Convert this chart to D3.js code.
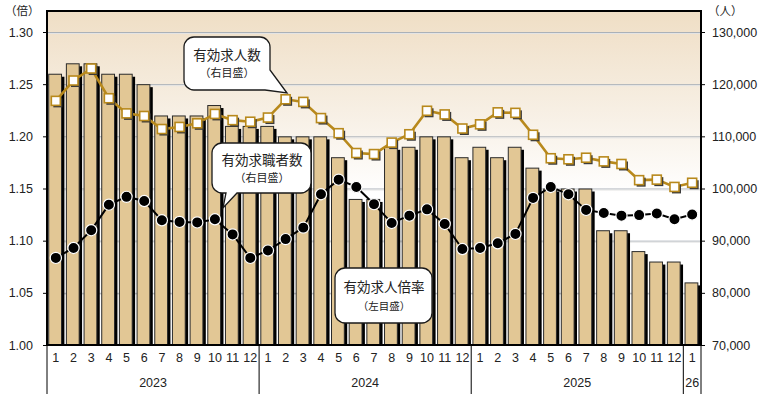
<!DOCTYPE html>
<html>
<head>
<meta charset="utf-8">
<script src="https://cdn.jsdelivr.net/npm/d3@7"></script>
<style>
  html, body { margin: 0; padding: 0; background: #fff; }
  svg { display: block; }
  text { font-family: "Liberation Sans", Arial, sans-serif; fill: #222; }
  .jp { font-family: "Noto Sans CJK JP", sans-serif; }
</style>
</head>
<body>
<svg id="chart" width="759" height="394"></svg>
<script>
// Month labels, Jan 2023 – Jan 2026
const monthLabels = ["1","2","3","4","5","6","7","8","9","10","11","12",
                     "1","2","3","4","5","6","7","8","9","10","11","12",
                     "1","2","3","4","5","6","7","8","9","10","11","12",
                     "1"];
const yearLabels = ["2023", "2024", "2025", "26"];
const yearSpans  = [12, 12, 12, 1];

// 有効求人倍率 (left axis, 倍)
const jobRatio = [1.26,1.27,1.27,1.26,1.26,1.25,1.22,1.22,1.22,1.23,1.21,1.21,
                  1.21,1.20,1.20,1.20,1.18,1.14,1.14,1.19,1.19,1.20,1.20,1.18,
                  1.19,1.18,1.19,1.17,1.15,1.15,1.15,1.11,1.11,1.09,1.08,1.08,
                  1.06];

// 有効求人数 (right axis, 人)
const jobOffers = [116800,120700,123000,117300,114400,113900,111400,111800,112500,114300,113100,112800,
                   113600,117100,116600,113500,110600,106800,106600,108800,110400,114900,114200,111500,
                   112300,114600,114500,110300,105800,105600,105900,105200,104700,101600,101700,100300,
                   101100];

// 有効求職者数 (right axis, 人)
const jobSeekers = [86700,88600,92000,96900,98400,97600,93900,93600,93500,94100,91200,86700,
                    88100,90300,92500,98900,101700,100300,97000,93400,94800,96000,93200,88400,
                    88600,89500,91300,98200,100300,98900,95900,95300,94800,94900,95200,94100,
                    95000];

const ratioTicks = [1.00, 1.05, 1.10, 1.15, 1.20, 1.25, 1.30];
const countTicks = [70000, 80000, 90000, 100000, 110000, 120000, 130000];

const svg = d3.select("#chart");
const L = 47, R = 701, T = 11, B = 345;

const x = d3.scaleBand().domain(d3.range(monthLabels.length)).range([L, R]).padding(0);
const yL = d3.scaleLinear().domain([1.0, 1.3]).range([B, 32]);
const yR = d3.scaleLinear().domain([70000, 130000]).range([B, 32]);
const step = x.bandwidth();
const cx = i => x(i) + step / 2;

// background gradient
const defs = svg.append("defs");
const grad = defs.append("linearGradient").attr("id", "bg").attr("x1", 0).attr("y1", 0).attr("x2", 0).attr("y2", 1);
grad.append("stop").attr("offset", "0%").attr("stop-color", "#efdec5");
grad.append("stop").attr("offset", "33%").attr("stop-color", "#f8f1e7");
grad.append("stop").attr("offset", "55%").attr("stop-color", "#ffffff");
grad.append("stop").attr("offset", "100%").attr("stop-color", "#ffffff");
defs.append("clipPath").attr("id", "plotClip")
  .append("rect").attr("x", L).attr("y", T).attr("width", R - L).attr("height", B - T);

svg.append("rect").attr("x", L).attr("y", T).attr("width", R - L).attr("height", B - T).attr("fill", "url(#bg)");

// gridlines
const grid = svg.append("g");
ratioTicks.slice(1).forEach(t => {
  grid.append("line").attr("x1", L).attr("x2", R).attr("y1", yL(t) + 0.5).attr("y2", yL(t) + 0.5)
    .attr("stroke", "#aab1b8").attr("stroke-width", 1);
  grid.append("line").attr("x1", L).attr("x2", R).attr("y1", yL(t) + 1.5).attr("y2", yL(t) + 1.5)
    .attr("stroke", "#e4e4e4").attr("stroke-width", 1);
});

// bars with drop shadow
const plot = svg.append("g").attr("clip-path", "url(#plotClip)");
const barW = 12.8, barOff = 1.2, sh = 3.4;
plot.append("g").selectAll("rect").data(jobRatio).join("rect")
  .attr("x", (d, i) => x(i) + barOff + sh)
  .attr("y", d => yL(d) + 3)
  .attr("width", barW)
  .attr("height", d => B - yL(d))
  .attr("fill", "#000");
plot.append("g").selectAll("rect").data(jobRatio).join("rect")
  .attr("x", (d, i) => x(i) + barOff + 0.5)
  .attr("y", d => yL(d) + 0.5)
  .attr("width", barW)
  .attr("height", d => B - yL(d))
  .attr("fill", "#e2c795")
  .attr("stroke", "#2a2a2a")
  .attr("stroke-width", 1);

// 有効求人数 line
const gold = "#b8891c";
const lineOffers = d3.line().x((d, i) => cx(i)).y(d => yR(d));
plot.append("path").datum(jobOffers).attr("d", lineOffers)
  .attr("fill", "none").attr("stroke", gold).attr("stroke-width", 2.6);
const sq = 9;
plot.append("g").selectAll("rect").data(jobOffers).join("rect")
  .attr("x", (d, i) => cx(i) - sq / 2 + 2)
  .attr("y", d => yR(d) - sq / 2 + 2)
  .attr("width", sq).attr("height", sq)
  .attr("fill", "#3a3a3a");
plot.append("g").selectAll("rect").data(jobOffers).join("rect")
  .attr("x", (d, i) => cx(i) - sq / 2)
  .attr("y", d => yR(d) - sq / 2)
  .attr("width", sq).attr("height", sq)
  .attr("fill", "#fff").attr("stroke", gold).attr("stroke-width", 1.6);

// 有効求職者数 line
const lineSeekers = d3.line().x((d, i) => cx(i)).y(d => yR(d));
plot.append("path").datum(jobSeekers).attr("d", lineSeekers)
  .attr("fill", "none").attr("stroke", "#000").attr("stroke-width", 2);
plot.append("g").selectAll("circle").data(jobSeekers).join("circle")
  .attr("cx", (d, i) => cx(i))
  .attr("cy", d => yR(d))
  .attr("r", 5.6)
  .attr("fill", "#000").attr("stroke", "#fff").attr("stroke-width", 1.2);

// plot frame
svg.append("path")
  .attr("d", `M${L},${B}V${T}H${R}V${B}`)
  .attr("fill", "none").attr("stroke", "#000").attr("stroke-width", 2);
svg.append("line").attr("x1", L - 1).attr("x2", R + 1).attr("y1", B).attr("y2", B)
  .attr("stroke", "#000").attr("stroke-width", 2);

// left axis
const axL = svg.append("g").attr("transform", `translate(${L},0)`)
  .call(d3.axisLeft(yL).tickValues(ratioTicks).tickFormat(d3.format(".2f")).tickSize(4).tickPadding(10));
axL.select(".domain").remove();
axL.selectAll("line").attr("stroke", "#000");
axL.selectAll("text").attr("font-size", 12.5).attr("fill", "#222");

// right axis
const axR = svg.append("g").attr("transform", `translate(${R},0)`)
  .call(d3.axisRight(yR).tickValues(countTicks).tickFormat(d3.format(",")).tickSize(4).tickPadding(7));
axR.select(".domain").remove();
axR.selectAll("line").attr("stroke", "#000");
axR.selectAll("text").attr("font-size", 12.5).attr("fill", "#222");

// unit labels
svg.append("text").attr("class", "jp").attr("x", 5).attr("y", 15).attr("font-size", 11.5).text("（倍）");
svg.append("text").attr("class", "jp").attr("x", 708).attr("y", 15).attr("font-size", 11.5).text("（人）");

// month labels
const axB = svg.append("g").attr("transform", `translate(0,${B})`)
  .call(d3.axisBottom(x).tickSize(0).tickPadding(8).tickFormat(i => monthLabels[i]));
axB.select(".domain").remove();
axB.selectAll("text").attr("font-size", 12.5).attr("fill", "#222");

// year groups and separators
let start = 0;
const sep = svg.append("g");
sep.append("line").attr("x1", L).attr("x2", L).attr("y1", B).attr("y2", 394).attr("stroke", "#000").attr("stroke-width", 1);
yearLabels.forEach((yl, k) => {
  const end = start + yearSpans[k];
  const x0 = x(start), x1 = end < monthLabels.length ? x(end) : R;
  svg.append("text").attr("x", (x0 + x1) / 2).attr("y", 387).attr("text-anchor", "middle")
    .attr("font-size", 12.5).text(yl);
  sep.append("line").attr("x1", x1).attr("x2", x1).attr("y1", B).attr("y2", 394)
    .attr("stroke", "#000").attr("stroke-width", 1);
  start = end;
});

// callouts
function callout(d, lines, cxp, baselines, sizes) {
  const g = svg.append("g");
  g.append("path").attr("d", d).attr("fill", "#fff").attr("stroke", "#1a1a1a").attr("stroke-width", 1.3);
  lines.forEach((t, k) => {
    g.append("text").attr("class", "jp").attr("x", cxp).attr("y", baselines[k])
      .attr("text-anchor", "middle").attr("font-size", sizes[k]).text(t);
  });
}
const r = 10;
callout(`M${184 + r},37H${270 - r}A${r},${r} 0 0 1 270,${37 + r}V70L287,93L265,90H${184 + r}A${r},${r} 0 0 1 184,${90 - r}V${37 + r}A${r},${r} 0 0 1 ${184 + r},37Z`,
  ["有効求人数", "（右目盛）"], 227, [59.5, 77], [13.5, 11]);
callout(`M${212 + r},143H${311 - r}A${r},${r} 0 0 1 311,${143 + r}V${193 - r}A${r},${r} 0 0 1 ${311 - r},193H237L223,208L226,193H${212 + r}A${r},${r} 0 0 1 212,${193 - r}V${143 + r}A${r},${r} 0 0 1 ${212 + r},143Z`,
  ["有効求職者数", "（右目盛）"], 262, [164.5, 182], [13.5, 11]);
callout(`M${335 + r},268H${432 - r}A${r},${r} 0 0 1 432,${268 + r}V${323 - r}A${r},${r} 0 0 1 ${432 - r},323H${335 + r}A${r},${r} 0 0 1 335,${323 - r}V${268 + r}A${r},${r} 0 0 1 ${335 + r},268Z`,
  ["有効求人倍率", "（左目盛）"], 384, [292, 309.5], [13.5, 10.5]);
</script>
</body>
</html>
